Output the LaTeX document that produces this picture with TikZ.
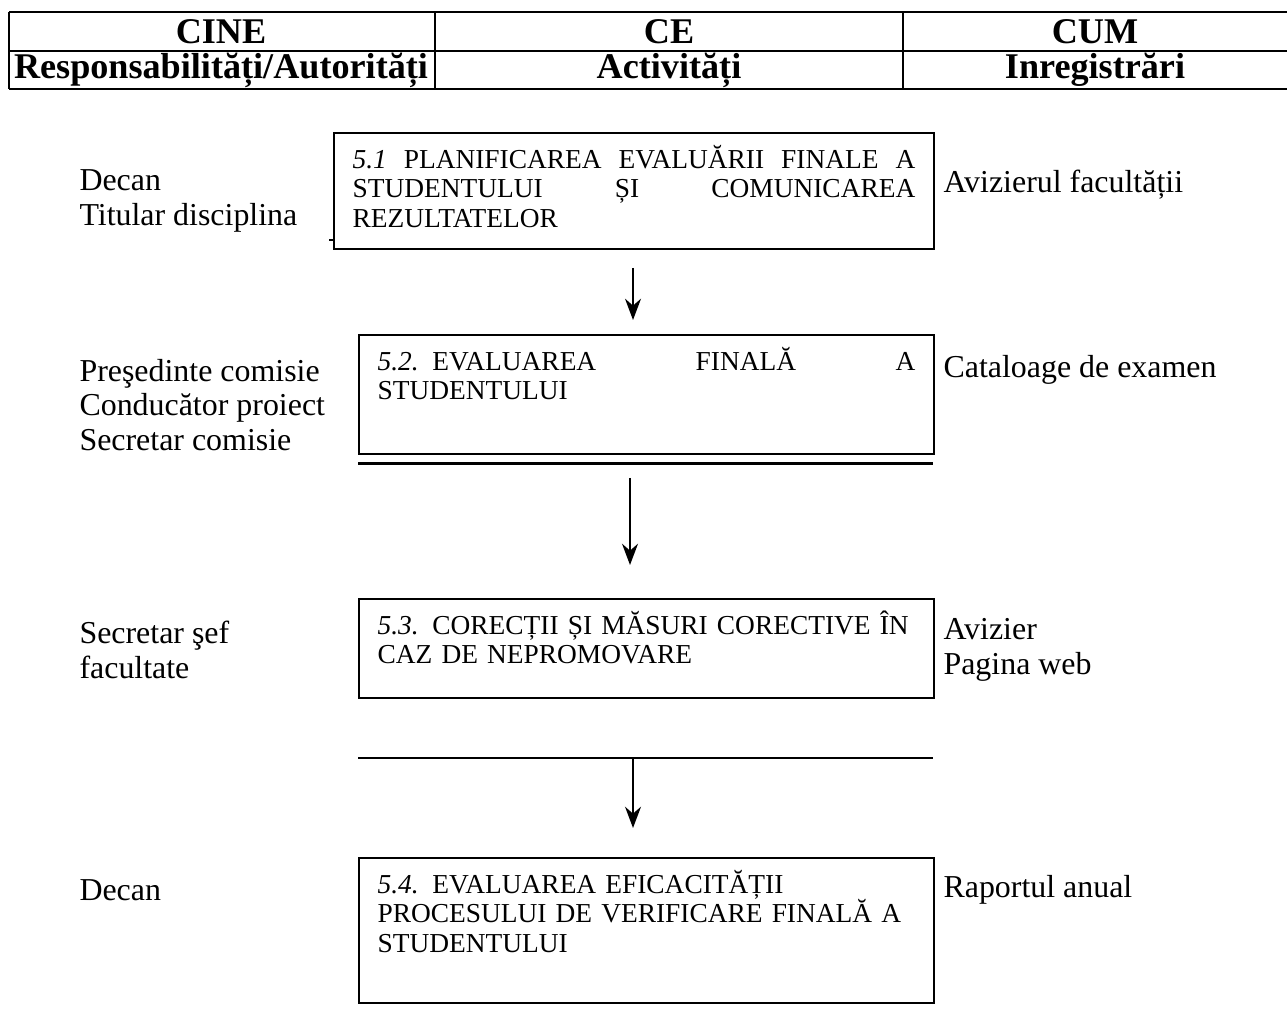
\documentclass[tikz,border=0pt]{standalone}
\usepackage{fontspec}
\setmainfont{Liberation Serif}
\usetikzlibrary{arrows.meta,positioning}

\newcommand{\randplin}[2]{\makebox[#1][s]{\spaceskip=.25em plus 1fil #2}}

\tikzset{etapa/.style={draw, line width=0.75pt, anchor=north west, inner xsep=7pt, inner ysep=0pt, text height=13.3pt, text depth=#1, font=\fontsize{10.3}{11.1}\selectfont, align=left}}
\tikzset{rol/.style={anchor=west, inner sep=0pt, font=\fontsize{12}{13}\selectfont, align=left}}
\tikzset{antet/.style={inner sep=0pt, font=\fontsize{13.6}{14}\selectfont\bfseries}}
\tikzset{sageata/.style={-{Stealth[length=8pt,width=6pt]}, line width=0.8pt}}

\begin{document}
\begin{tikzpicture}[x=0.376pt, y=-0.376pt]
	\useasboundingbox (0,0) rectangle (1287,1009);
	
	% capul de tabel
	\draw[line width=1.1pt] (9,12) -- (1287,12);
	\draw[line width=1.1pt] (9,51) -- (1287,51);
	\draw[line width=1.1pt] (9,89) -- (1287,89);
	\draw[line width=0.7pt] (9,12) -- (9,89);
	\draw[line width=0.7pt] (435,12) -- (435,89);
	\draw[line width=0.7pt] (903,12) -- (903,89);
	
	\node[antet] (cine) at (221,32) {CINE};
	\node[antet] (ce) at (669,32) {CE};
	\node[antet] (cum) at (1095,32) {CUM};
	\node[antet] (resp) at (221,70) {Responsabilități/Autorități};
	\node[antet] (activ) at (669,70) {Activități};
	\node[antet] (inreg) at (1095,70) {Inregistrări};
	
	% etapele
	\node[etapa=30.3pt, text width=211.6pt] (e1) at (333,132) {\randplin{211.6pt}{\textit{5.1} PLANIFICAREA EVALUĂRII FINALE A}\\\randplin{211.6pt}{STUDENTULUI ȘI COMUNICAREA}\\REZULTATELOR};
	\node[etapa=31.4pt, text width=202.2pt] (e2) at (358,334) {\randplin{202.2pt}{\textit{5.2.} EVALUAREA FINALĂ A}\\STUDENTULUI};
	\node[etapa=23.9pt, text width=202.2pt] (e3) at (358,598) {\textit{5.3.} CORECȚII ȘI MĂSURI CORECTIVE ÎN\\CAZ DE NEPROMOVARE};
	\node[etapa=41.2pt, text width=202.2pt] (e4) at (358,857) {\textit{5.4.} EVALUAREA EFICACITĂȚII\\PROCESULUI DE VERIFICARE FINALĂ A\\STUDENTULUI};
	\draw[line width=0.6pt] (e1.south west) ++(-4,-10) -- ++(4,0);
	
	\draw[line width=1.1pt] (e2.south west) ++(0,9) -- ++(575,0);
	\draw[line width=1.1pt] (358,758) -- (933,758);
	
	% sagetile
	\coordinate (s1a) at (633,268);
	\coordinate (s1b) at (633,320);
	\coordinate (s2a) at (630,478);
	\coordinate (s2b) at (630,565);
	\coordinate (s3a) at (633,758);
	\coordinate (s3b) at (633,828);
	\draw[sageata] (s1a) -- (s1b);
	\draw[sageata] (s2a) -- (s2b);
	\draw[sageata] (s3a) -- (s3b);
	
	% cine
	\node[rol] (r1) at (79,201) {Decan\\Titular disciplina};
	\node[rol] (r2) at (79,405) {Preşedinte comisie\\Conducător proiect\\Secretar comisie};
	\node[rol] (r3) at (79,650) {Secretar şef\\facultate};
	\node[rol] (r4) at (79,890) {Decan};
	
	% cum
	\node[rol] (i1) at (943,185) {Avizierul facultății};
	\node[rol] (i2) at (943,370) {Cataloage de examen};
	\node[rol] (i3) at (943,650) {Avizier\\Pagina web};
	\node[rol] (i4) at (943,890) {Raportul anual};
\end{tikzpicture}
\end{document}
